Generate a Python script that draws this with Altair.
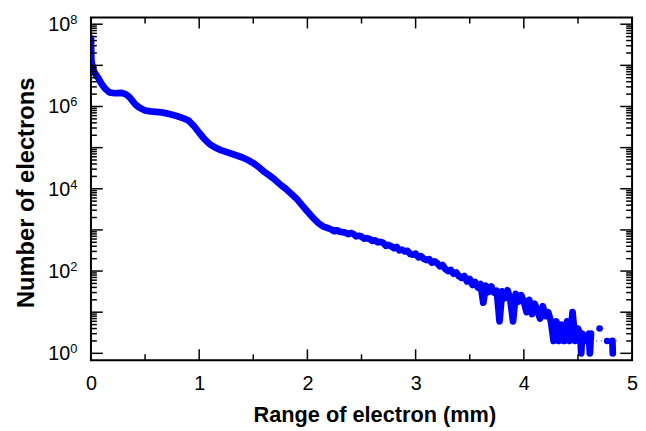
import altair as alt
import pandas as pd

# ---- data ----
x_main = [0.000, 0.004, 0.02, 0.04, 0.07, 0.10, 0.13, 0.17, 0.22, 0.28, 0.32, 0.35, 0.38, 0.41,
          0.45, 0.50, 0.55, 0.60, 0.65, 0.70, 0.75, 0.80, 0.85, 0.90, 0.95, 1.00, 1.05, 1.10,
          1.15, 1.20, 1.30, 1.40, 1.45, 1.50, 1.55, 1.60, 1.65, 1.70, 1.75, 1.80, 1.85, 1.90,
          1.95, 2.00, 2.05, 2.10, 2.15,
          2.200, 2.225, 2.250, 2.275, 2.300, 2.325, 2.350, 2.375, 2.400, 2.425, 2.450, 2.475,
          2.500, 2.525, 2.550, 2.575, 2.600, 2.625, 2.650, 2.675, 2.700, 2.725, 2.750, 2.775,
          2.800, 2.825, 2.850, 2.875, 2.900, 2.925, 2.950, 2.975, 3.000, 3.025, 3.050, 3.075,
          3.100, 3.125, 3.150, 3.175, 3.200, 3.225, 3.250, 3.275, 3.300, 3.325, 3.350, 3.375,
          3.400, 3.425, 3.450, 3.475, 3.500, 3.525, 3.550, 3.575, 3.600, 3.625, 3.650, 3.675,
          3.700, 3.725, 3.750, 3.775, 3.800, 3.825, 3.850, 3.875, 3.900, 3.925, 3.950, 3.975,
          4.000, 4.025, 4.050, 4.075, 4.100, 4.125, 4.150, 4.175, 4.200, 4.225, 4.250, 4.275,
          4.300, 4.325, 4.350, 4.375, 4.400, 4.425, 4.450, 4.475, 4.500,
          4.520, 4.530, 4.540, 4.560, 4.600, 4.610, 4.620]
n_main = [4.5e7, 1.3e7, 7.9e6, 6.3e6, 4.8e6, 3.5e6, 2.75e6, 2.2e6, 2.1e6, 2.15e6, 2.0e6, 1.75e6,
          1.4e6, 1.12e6, 9.3e5, 8.0e5, 7.6e5, 7.4e5, 7.2e5, 6.8e5, 6.3e5, 5.8e5, 5.2e5, 4.6e5,
          3.4e5, 2.3e5, 1.6e5, 1.2e5, 1.0e5, 8.7e4, 7.1e4, 5.75e4, 5.0e4, 4.2e4, 3.4e4, 2.6e4,
          2.1e4, 1.66e4, 1.26e4, 1.0e4, 7600, 5750, 4000, 2800, 2000, 1480, 1200,
          1080, 1010, 930, 980, 900, 880, 860, 790, 840, 800, 700, 720,
          690, 610, 630, 600, 540, 560, 500, 510, 490, 410, 430, 400,
          360, 385, 320, 330, 300, 310, 260, 250, 265, 215, 230, 200,
          185, 195, 160, 172, 155, 130, 140, 112, 100, 106, 86, 92,
          75, 68, 76, 56, 64, 46, 54, 40, 48, 17, 44, 31,
          42, 30, 33, 6, 32, 22, 34, 20, 6, 28, 18, 26,
          18, 10, 20, 9, 16, 11, 7, 14, 8, 10, 6, 2,
          6, 2, 5, 2, 6, 2, 10, 2, 4,
          3, 1, 3, 2, 3, 1, 3]

x_bar = [4.818, 4.822]
n_bar = [2, 1]

x_pts = [4.70, 4.77]
n_pts = [4, 2]

x_dot = [4.62, 4.70, 4.77, 4.82, 4.88]
n_dot = [2, 2, 2, 2, 2]

x_major = [0, 1, 2, 3, 4, 5]
x_minor = [0.5, 1.5, 2.5, 3.5, 4.5]
y_major = [1, 1e1, 1e2, 1e3, 1e4, 1e5, 1e6, 1e7, 1e8]
y_minor = [m * 10 ** k for k in range(8) for m in range(2, 10)]
y_label_vals = [1, 1e2, 1e4, 1e6, 1e8]
y_label_exp = ["0", "2", "4", "6", "8"]

W, H = 548, 347
BLUE = "#0000FF"
FONT = "Liberation Sans"

xs = alt.Scale(domain=[0, 5], nice=False, zero=False)
ys = alt.Scale(type="log", domain=[0.68, 1.45e8], nice=False)

rows = []
i = 0
for x, n in zip(x_main, n_main):
    rows.append({"x": x, "n": n, "seg": "a", "i": i}); i += 1
for x, n in zip(x_bar, n_bar):
    rows.append({"x": x, "n": n, "seg": "b", "i": i}); i += 1
df_line = pd.DataFrame(rows)
df_pts = pd.DataFrame({"x": x_pts, "n": n_pts})
df_dot = pd.DataFrame({"x": x_dot, "n": n_dot})

xaxis = alt.Axis(values=x_major, format="d", labelFontSize=20, labelFont=FONT,
                 labelColor="black", labelFlush=False, domain=False, ticks=False,
                 grid=False, labelPadding=14,
                 title="Range of electron (mm)", titleFont=FONT, titleFontSize=22,
                 titleFontWeight="bold", titleColor="black", titleX=287, titleY=62,
                 titleBaseline="alphabetic")

line = alt.Chart(df_line).mark_line(color=BLUE, strokeWidth=6.8, strokeCap="round",
                                    strokeJoin="round", clip=True).encode(
    x=alt.X("x:Q", scale=xs, axis=xaxis),
    y=alt.Y("n:Q", scale=ys, axis=None),
    detail="seg:N",
    order="i:Q",
)

dots = alt.Chart(df_dot).mark_line(color=BLUE, strokeWidth=1, strokeDash=[1, 4]).encode(
    x=alt.X("x:Q", scale=xs), y=alt.Y("n:Q", scale=ys))

pts = alt.Chart(df_pts).mark_circle(color=BLUE, size=45, opacity=1).encode(
    x=alt.X("x:Q", scale=xs), y=alt.Y("n:Q", scale=ys))

def xticks(vals, length):
    d = pd.DataFrame({"v": vals})
    base = alt.Chart(d).mark_rule(color="black", strokeWidth=1.5)
    bottom = base.encode(x=alt.X("v:Q", scale=xs), y=alt.value(H), y2=alt.value(H - length))
    top = base.encode(x=alt.X("v:Q", scale=xs), y=alt.value(0), y2=alt.value(length))
    return bottom + top

def yticks(vals, length):
    d = pd.DataFrame({"v": vals})
    base = alt.Chart(d).mark_rule(color="black", strokeWidth=1.5)
    left = base.encode(y=alt.Y("v:Q", scale=ys), x=alt.value(0), x2=alt.value(length))
    right = base.encode(y=alt.Y("v:Q", scale=ys), x=alt.value(W), x2=alt.value(W - length))
    return left + right

df_lab = pd.DataFrame({"v": y_label_vals, "e": y_label_exp, "b": ["10"] * 5})
lab_base = alt.Chart(df_lab).mark_text(align="right", baseline="middle", fontSize=20,
                                       font=FONT, color="black", dy=1).encode(
    y=alt.Y("v:Q", scale=ys), x=alt.value(-21), text="b:N")
lab_exp = alt.Chart(df_lab).mark_text(align="left", baseline="middle", fontSize=13,
                                      font=FONT, color="black", dy=-4).encode(
    y=alt.Y("v:Q", scale=ys), x=alt.value(-21), text="e:N")

ytitle = alt.Chart(pd.DataFrame({"t": ["Number of electrons"]})).mark_text(
    angle=270, fontSize=24, fontWeight="bold", font=FONT, color="black",
    align="center", baseline="middle").encode(
    x=alt.value(-65), y=alt.value(H / 2 + 4), text="t:N")

chart = alt.layer(
    line, dots, pts,
    xticks(x_major, 11), xticks(x_minor, 6),
    yticks(y_major, 12), yticks(y_minor, 6),
    lab_base, lab_exp, ytitle,
).properties(
    width=W, height=H,
    autosize=alt.AutoSizeParams(type="none"),
    padding={"left": 84, "top": 7, "right": 6, "bottom": 70},
).configure_view(stroke="black", strokeWidth=2)

chart.save("out.html", embed_options={"renderer": "svg", "actions": False})
